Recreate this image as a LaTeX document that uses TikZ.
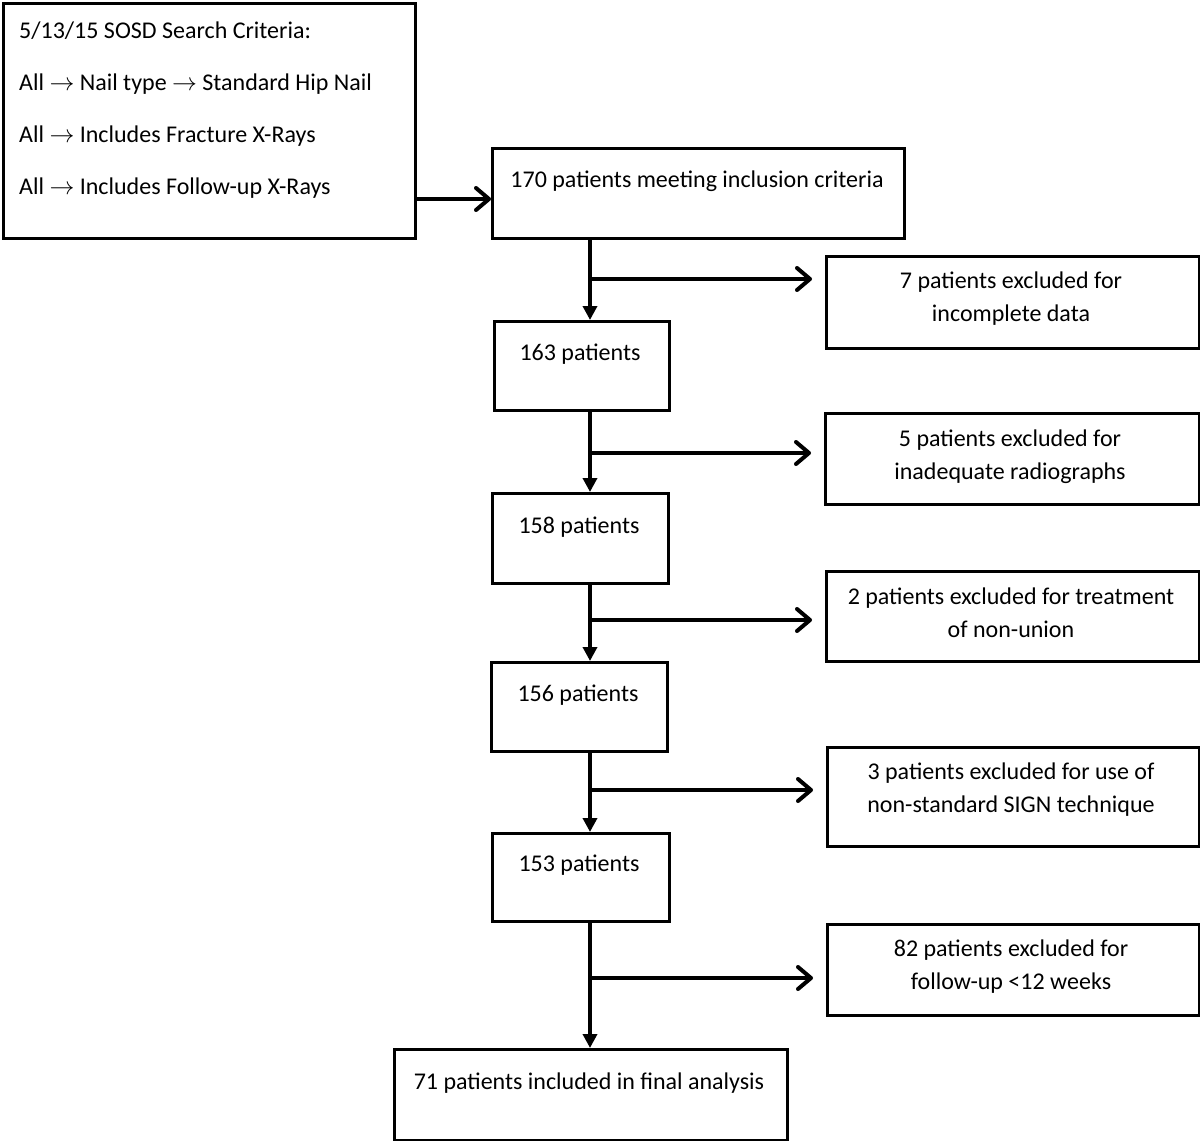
\documentclass[tikz,border=0pt]{standalone}
\usepackage{fontspec}
\setmainfont{Carlito}
\usetikzlibrary{arrows.meta}
\begin{document}
\begin{tikzpicture}[x=1pt,y=-1pt,
  box/.style={draw=black,line width=3pt,rectangle,inner sep=0pt,anchor=north west},
  txt/.style={font=\fontsize{24}{33}\selectfont,inner sep=0pt,align=center},
  ltxt/.style={font=\fontsize{24}{33}\selectfont,inner sep=0pt,anchor=west},
  varrow/.style={line width=4.5pt,-{Triangle[length=14pt,width=14pt]}},
  barb/.style={line width=4pt,-{Straight Barb[length=13pt,width=22pt,line cap=round,line join=round]}},
  harrow/.style={barb,shorten >=13pt}]
\useasboundingbox (0,0) rectangle (1200,1141);
% boxes
\node[box,minimum width=412pt,minimum height=235pt] (crit) at (2,2) {};
\node[box,minimum width=412pt,minimum height=90pt] (b170) at (491,147) {};
\node[box,minimum width=373pt,minimum height=92pt] (e1) at (825,255) {};
\node[box,minimum width=175pt,minimum height=89pt] (b163) at (493,320) {};
\node[box,minimum width=374pt,minimum height=91pt] (e2) at (824,412) {};
\node[box,minimum width=176pt,minimum height=90pt] (b158) at (491,492) {};
\node[box,minimum width=373pt,minimum height=90pt] (e3) at (825,570) {};
\node[box,minimum width=176pt,minimum height=89pt] (b156) at (490,661) {};
\node[box,minimum width=372pt,minimum height=99pt] (e4) at (826,746) {};
\node[box,minimum width=177pt,minimum height=88pt] (b153) at (491,832) {};
\node[box,minimum width=372pt,minimum height=91pt] (e5) at (826,923) {};
\node[box,minimum width=393pt,minimum height=91pt] (b71) at (393,1048) {};
% texts
\node[ltxt] (t1) at (19,31) {5/13/15 SOSD Search Criteria:};
\node[ltxt] (t2) at (19,84) {All \ensuremath{\rightarrow} Nail type \ensuremath{\rightarrow} Standard Hip Nail};
\node[ltxt] (t3) at (19,136) {All \ensuremath{\rightarrow} Includes Fracture X-Rays};
\node[ltxt] (t4) at (19,188) {All \ensuremath{\rightarrow} Includes Follow-up X-Rays};
\node[txt] (t170) at (697,181) {170 patients meeting inclusion criteria};
\node[txt] (te1) at (1011,299) {7 patients excluded for\\incomplete data};
\node[txt] (t163) at (580,354) {163 patients};
\node[txt] (te2) at (1010,457) {5 patients excluded for\\inadequate radiographs};
\node[txt] (t158) at (579,527) {158 patients};
\node[txt] (te3) at (1011,613) {2 patients excluded for treatment\\of non-union};
\node[txt] (t156) at (578,695) {156 patients};
\node[txt] (te4) at (1011,790) {3 patients excluded for use of\\non-standard SIGN technique};
\node[txt] (t153) at (579,865) {153 patients};
\node[txt] (te5) at (1011,967) {82 patients excluded for\\follow-up <12 weeks};
\node[txt] (t71) at (589,1083) {71 patients included in final analysis};
% connectors
\coordinate (spine) at (590,0);
\coordinate (y0) at (0,199);
\coordinate (y1) at (0,279);
\coordinate (y2) at (0,453);
\coordinate (y3) at (0,620);
\coordinate (y4) at (0,790);
\coordinate (y5) at (0,978);
\draw[barb] (crit.east |- y0) -- (b170.west |- y0);
\draw[varrow] (b170.south -| spine) -- (b163.north -| spine);
\draw[harrow] (spine |- y1) -- (e1.west |- y1);
\draw[varrow] (b163.south -| spine) -- (b158.north -| spine);
\draw[harrow] (spine |- y2) -- (e2.west |- y2);
\draw[varrow] (b158.south -| spine) -- (b156.north -| spine);
\draw[harrow] (spine |- y3) -- (e3.west |- y3);
\draw[varrow] (b156.south -| spine) -- (b153.north -| spine);
\draw[harrow] (spine |- y4) -- (e4.west |- y4);
\draw[varrow] (b153.south -| spine) -- (b71.north -| spine);
\draw[harrow] (spine |- y5) -- (e5.west |- y5);
\end{tikzpicture}
\end{document}
